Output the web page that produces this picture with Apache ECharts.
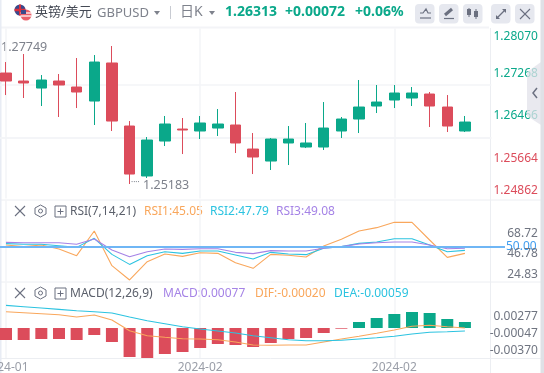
<!DOCTYPE html>
<html><head><meta charset="utf-8">
<style>html,body{margin:0;padding:0;background:#fff;overflow:hidden}#c{width:544px;height:373px}</style>
<script src="https://cdn.jsdelivr.net/npm/echarts@6/dist/echarts.min.js"></script>
</head><body><div id="c"></div>
<script>
const tickLabels=['2024-01','','','','','','','','','','','2024-02','','','','','','','','','','','2024-02','','','','',''];
const opens =[1.27229,1.27078,1.26946,1.27078,1.26965,1.26701,1.27418,1.26230,1.25288,1.25947,1.26173,1.26136,1.26192,1.26249,1.25796,1.25570,1.25910,1.25834,1.25834,1.26136,1.26362,1.26607,1.26720,1.26758,1.26833,1.26588,1.26136];
const closes=[1.27078,1.27041,1.27097,1.27003,1.26871,1.27436,1.26324,1.25325,1.25966,1.26268,1.26155,1.26287,1.26268,1.25910,1.25646,1.25985,1.25985,1.25910,1.26192,1.26362,1.26588,1.26682,1.26852,1.26852,1.26607,1.26230,1.26305];
const lows  =[1.26814,1.26758,1.26607,1.26400,1.26569,1.26249,1.26136,1.25137,1.25250,1.25853,1.25702,1.25985,1.26042,1.25721,1.25325,1.25401,1.25495,1.25815,1.25778,1.26004,1.26098,1.26475,1.26569,1.26607,1.26211,1.26117,1.26117];
const highs =[1.27436,1.27587,1.27191,1.27210,1.27512,1.27568,1.27738,1.26324,1.26023,1.26419,1.26381,1.26419,1.26550,1.26871,1.26098,1.26004,1.26230,1.26287,1.26682,1.26400,1.27097,1.27003,1.27003,1.26965,1.26871,1.26814,1.26419];
const priceTicks=[1.28070,1.27268,1.26466,1.25664,1.24862];
const rsi1=[52.1,50.4,52.1,47.9,40.7,67.1,30,14.7,34.3,42.5,40,43.9,43.2,33.2,27.2,42.1,41.1,39.3,51.1,58.2,67.1,70.7,76.4,76.4,57.5,38.9,43.2];
const rsi2=[53.6,52.9,52.9,51.4,49.6,59.3,42.1,31.4,40.7,45,43.2,45.7,45.7,41.4,37.1,44.3,42.5,41.8,48.6,50.4,53.9,55.4,58.9,58.9,52.1,45,46.4];
const rsi3=[55,54.6,54.6,54.6,52.9,58.6,46.8,39.6,45,47.9,47.5,48.2,48.2,44.3,42.9,46.1,45.7,45.7,48.6,50.4,53.2,54.6,55.4,55.4,52.1,48.2,48.6];
const rsiTicks=[68.72,46.78,24.83];
const macdHist=[-0.00228,-0.00228,-0.00209,-0.00209,-0.00228,-0.00133,-0.00266,-0.00551,-0.00570,-0.00494,-0.00456,-0.00380,-0.00304,-0.00323,-0.00361,-0.00285,-0.00209,-0.00190,-0.00095,-0.00013,0.00114,0.00190,0.00266,0.00304,0.00285,0.00171,0.00114];
const dif=[0.00310,0.00291,0.00272,0.00253,0.00209,0.00247,0.00152,-0.00051,-0.00146,-0.00177,-0.00203,-0.00209,-0.00222,-0.00266,-0.00323,-0.00329,-0.00323,-0.00323,-0.00266,-0.00209,-0.00158,-0.00101,-0.00038,0.00032,0.00051,0.00025,0];
const dea=[0.00430,0.00405,0.00380,0.00354,0.00329,0.00310,0.00285,0.00209,0.00139,0.00082,0.00025,-0.00019,-0.00057,-0.00095,-0.00146,-0.00184,-0.00222,-0.00241,-0.00241,-0.00234,-0.00209,-0.00184,-0.00158,-0.00114,-0.00082,-0.00070,-0.00057];
const macdTicks=[0.00277,-0.00047,-0.00370];

const GREEN='#0aa88a',RED='#dc4c5b',GRAY='#6f7480',LINE='#f3f4f7',ORANGE='#f9a75c',CYAN='#2cc3e0',PURPLE='#a583e6',ICON='#6b7080';
const FONT='"Noto Sans","Noto Sans CJK SC",sans-serif';
const chart=echarts.init(document.getElementById('c'),null,{renderer:'canvas'});
const left=-2.8,width=494.2;
const xBase=(i,show)=>({type:'category',gridIndex:i,data:tickLabels,boundaryGap:true,
  axisLine:{show:false},axisTick:{show:false},
  axisLabel:{show,interval:10,color:'#9a9ea8',fontSize:12,fontFamily:FONT,margin:4,hideOverlap:false,showMinLabel:true},
  splitLine:{show:true,interval:10,alignWithLabel:true,lineStyle:{color:LINE,width:1.5}}});
const yBase=(i,min,max,ticks,fmt,extra)=>({type:'value',gridIndex:i,position:'right',min,max,scale:true,
  axisLine:{show:false},axisTick:{show:false},splitLine:{show:false},
  axisLabel:Object.assign({customValues:ticks,color:GRAY,fontSize:12,fontFamily:FONT,margin:46.5,align:'right',formatter:fmt},extra||{})});
const f5=v=>v.toFixed(5),f2=v=>v.toFixed(2);
const priceFmt=v=>{const tall=v===priceTicks[0]||v===priceTicks[4];const g=v>=1.26313;return '{'+(tall?(g?'gt':'rt'):(g?'gs':'rs'))+'|'+v.toFixed(5)+'}';};
const grey=(x,y)=>({type:'rect',shape:{x,y,width:19.5,height:19.5,r:4},style:{fill:'#e6e8ef'}});
const txt=(x,y,text,fill,size,weight)=>({type:'text',x,y,style:{text,fill,fontSize:size,fontWeight:weight||'normal',fontFamily:FONT,verticalAlign:'middle'}});
const ln=(x1,y1,x2,y2,c,w)=>({type:'line',shape:{x1,y1,x2,y2},style:{stroke:c,lineWidth:w||1}});
const xIcon=(x,y)=>[ln(x,y,x+10,y+10,ICON,1.1),ln(x,y+10,x+10,y,ICON,1.1)];
const gear=(x,y)=>[{type:'polygon',shape:{points:[[x+5.5,y],[x+11,y+3],[x+11,y+9],[x+5.5,y+12],[x,y+9],[x,y+3]]},style:{fill:'none',stroke:ICON,lineWidth:1}},{type:'circle',shape:{cx:x+5.5,cy:y+6,r:2},style:{fill:'none',stroke:ICON,lineWidth:1}}];
const plus=(x,y)=>[{type:'rect',shape:{x,y,width:11,height:11},style:{fill:'none',stroke:ICON,lineWidth:1}},ln(x+2.5,y+5.5,x+8.5,y+5.5,ICON),ln(x+5.5,y+2.5,x+5.5,y+8.5,ICON)];
const rt=(color,lineHeight)=>({color,lineHeight,fontSize:12,fontFamily:FONT});
chart.setOption({
  animation:false,backgroundColor:'#fff',
  grid:[
    {left,width,top:28.4,height:170.2,outerBoundsMode:'none'},
    {left,width,top:200,height:82,outerBoundsMode:'none'},
    {left,width,top:282,height:76,outerBoundsMode:'none'}
  ],
  xAxis:[xBase(0,false),xBase(1,false),xBase(2,true)],
  yAxis:[
    yBase(0,1.24862,1.28070,priceTicks,priceFmt,{verticalAlign:'top',verticalAlignMaxLabel:'bottom',verticalAlignMinLabel:'top',
      rich:{gt:rt(GREEN,16),rt:rt(RED,16),gs:rt(GREEN,5),rs:rt(RED,5)}}),
    yBase(1,12.55,100.3,rsiTicks,f2,{verticalAlign:'top',lineHeight:8}),
    yBase(2,-0.0057,0.00874,macdTicks,f5,{verticalAlign:'top',lineHeight:6})
  ],
  series:[
    {type:'candlestick',xAxisIndex:0,yAxisIndex:0,barWidth:11,data:opens.map((o,i)=>[o,closes[i],lows[i],highs[i]]),
     itemStyle:{color:GREEN,color0:RED,borderColor:GREEN,borderColor0:RED,borderWidth:1},
     markLine:{silent:true,symbol:'none',label:{show:false},lineStyle:{color:LINE,width:1.5,type:'solid'},z:0,data:[{yAxis:priceTicks[1]},{yAxis:priceTicks[2]},{yAxis:priceTicks[3]}]}},
    {type:'line',xAxisIndex:1,yAxisIndex:1,data:rsi1,symbol:'none',lineStyle:{color:ORANGE,width:1.1}},
    {type:'line',xAxisIndex:1,yAxisIndex:1,data:rsi2,symbol:'none',lineStyle:{color:CYAN,width:1.1}},
    {type:'line',xAxisIndex:1,yAxisIndex:1,data:rsi3,symbol:'none',lineStyle:{color:PURPLE,width:1.1},
     markLine:{silent:true,symbol:'none',lineStyle:{color:'#6fb6f5',width:2,type:'solid'},label:{show:false},z:5,data:[{yAxis:50}]}},
    {type:'bar',xAxisIndex:2,yAxisIndex:2,barWidth:12,data:macdHist,itemStyle:{color:p=>p.value>=0?GREEN:RED}},
    {type:'line',xAxisIndex:2,yAxisIndex:2,data:dif,symbol:'none',lineStyle:{color:ORANGE,width:1.1}},
    {type:'line',xAxisIndex:2,yAxisIndex:2,data:dea,symbol:'none',lineStyle:{color:CYAN,width:1.1}}
  ],
  graphic:[
    ln(0,27.5,489,27.5,LINE,2),ln(0,200,541,200,'#eceef2'),ln(0,282,541,282,'#eceef2'),ln(0,358.5,541,358.5,'#eceef2'),ln(490.5,28,490.5,373,'#eceef2'),
    {type:'rect',shape:{x:0,y:0,width:1.5,height:373},style:{fill:'#e8ecf4'}},
    {type:'circle',shape:{cx:20,cy:10,r:5.5},style:{fill:'#3a4a8c'}},
    ln(14.5,10,25.5,10,'#d9303e',2.5),ln(20,4.5,20,15.5,'#d9303e',2),
    {type:'circle',shape:{cx:26,cy:15,r:5.5},style:{fill:'#e9606a'}},ln(20.5,13,31.5,13,'#fff',1.2),ln(20.5,16,31.5,16,'#fff',1.2),
    {type:'rect',shape:{x:21,y:10,width:5,height:4},style:{fill:'#3a4a8c'}},
    txt(35,12,'英镑/美元','#454a55',13),txt(97,13,'GBPUSD','#7e828c',13),
    {type:'polygon',shape:{points:[[154,11],[160,11],[157,15]]},style:{fill:'#7e828c'}},
    ln(170.5,6,170.5,19,'#c8cbd2'),
    txt(180,12,'日K','#7e828c',14),
    {type:'polygon',shape:{points:[[209,11],[215,11],[212,15]]},style:{fill:'#7e828c'}},
    txt(225,12,'1.26313',GREEN,14,'bold'),txt(285,12,'+0.00072',GREEN,14,'bold'),txt(355,12,'+0.06%',GREEN,14,'bold'),
    grey(415,4),grey(439,4),grey(463,4),grey(491,4),grey(515,4),
    {type:'polyline',shape:{points:[[420,13],[423,13],[426,9],[428,13],[431,13]]},style:{fill:'none',stroke:ICON,lineWidth:1.2}},ln(420,18,431,18,ICON,1.2),
    ln(445,15,452,9,ICON,3),ln(444,18.5,454,18.5,ICON,1.2),
    ln(469,8,469,17,ICON,1),{type:'rect',shape:{x:467,y:9,width:4,height:6},style:{fill:ICON}},
    ln(476,9,476,19,ICON,1),{type:'rect',shape:{x:474,y:11,width:4,height:6},style:{fill:ICON}},
    ln(497,18,505,10,ICON,1.2),{type:'polygon',shape:{points:[[502,9],[506,9],[506,13]]},style:{fill:ICON}},{type:'polygon',shape:{points:[[496,15],[496,19],[500,19]]},style:{fill:ICON}},
    ...xIcon(520,9),
    txt(1,47,'1.27749','#7e828c',12.5),txt(143,185,'1.25183','#7e828c',12.5),txt(131,183,'····','#7e828c',8),
    ...xIcon(15,206),...gear(35,205),...plus(55,206),txt(70,212,'RSI(7,14,21)','#5b606b',12),
    txt(144,212,'RSI1:45.05',ORANGE,12),txt(210,212,'RSI2:47.79',CYAN,12),txt(276,212,'RSI3:49.08',PURPLE,12),
    ...xIcon(15,288),...gear(35,287),...plus(55,288),txt(70,294,'MACD(12,26,9)','#5b606b',12),
    txt(163,294,'MACD:0.00077',PURPLE,12),txt(255,294,'DIF:-0.00020',ORANGE,12),txt(334,294,'DEA:-0.00059',CYAN,12),
    ln(490,247,505,247,'#6fb6f5',2),
    txt(506,247,'50.00','#3f9df0',12),
    {type:'polygon',shape:{points:[[541,62],[527,72],[527,116],[541,125]]},style:{fill:'rgba(225,226,234,0.75)'},z:50},
    {type:'polyline',shape:{points:[[537,88],[533,93],[537,98]]},style:{fill:'none',stroke:ICON,lineWidth:1.5},z:51},
    {type:'rect',shape:{x:540.5,y:0,width:3.5,height:373},style:{fill:'#dfe1e6'},z:52}
  ]
});
</script></body></html>
